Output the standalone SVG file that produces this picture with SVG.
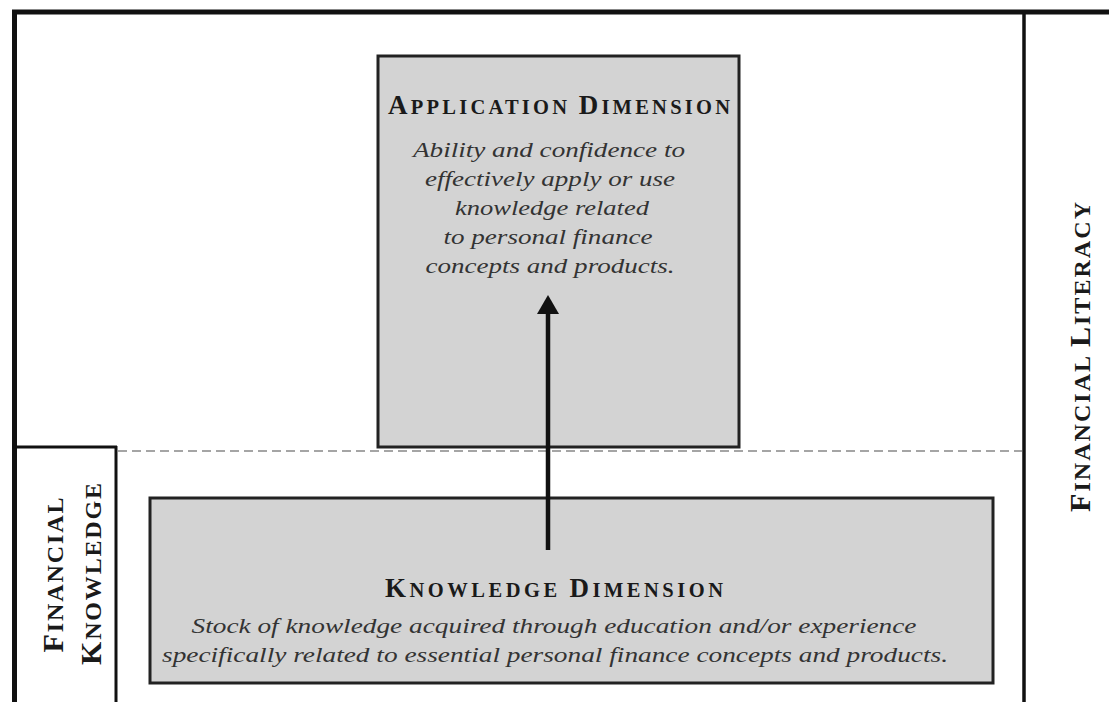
<svg xmlns="http://www.w3.org/2000/svg" width="1109" height="702" viewBox="0 0 1109 702">
<defs>
<style>
.frame{fill:none;stroke:#111;}
.box{fill:#d3d3d3;stroke:#222;stroke-width:3;}
.title{font-family:"Liberation Serif","Times New Roman",serif;font-weight:bold;fill:#1a1a1a;}
.desc{font-family:"Liberation Serif","Times New Roman",serif;font-style:italic;fill:#333;font-size:21px;}
.big{font-size:27px;}
.sm{font-size:20.5px;}
.vbig{font-size:30px;}
.vsm{font-size:24px;}
</style>
</defs>
<rect width="1109" height="702" fill="#fff"/>
<g id="frame">
<line class="frame" x1="12" y1="12" x2="1109" y2="12" stroke-width="5"/>
<line class="frame" x1="14.5" y1="10" x2="14.5" y2="702" stroke-width="5"/>
<line class="frame" x1="1024" y1="12" x2="1024" y2="702" stroke-width="3.5"/>
</g>
<g id="financial-literacy">
<text class="title" text-anchor="middle" transform="translate(1090,357) rotate(-90)" textLength="310" lengthAdjust="spacing"><tspan class="vbig">F</tspan><tspan class="vsm">INANCIAL </tspan><tspan class="vbig">L</tspan><tspan class="vsm">ITERACY</tspan></text>
</g>
<g id="financial-knowledge">
<line class="frame" x1="14" y1="447" x2="117" y2="447" stroke-width="3"/>
<line class="frame" x1="116" y1="446" x2="116" y2="702" stroke-width="3"/>
<text class="title" text-anchor="middle" transform="translate(63,575) rotate(-90)" textLength="155" lengthAdjust="spacing"><tspan class="vbig">F</tspan><tspan class="vsm">INANCIAL</tspan></text>
<text class="title" text-anchor="middle" transform="translate(101,574) rotate(-90)" textLength="182" lengthAdjust="spacing"><tspan class="vbig">K</tspan><tspan class="vsm">NOWLEDGE</tspan></text>
</g>
<g id="divider">
<line x1="118" y1="451" x2="1022" y2="451" stroke="#888" stroke-width="1.5" stroke-dasharray="9,5"/>
</g>
<g id="application-dimension">
<rect class="box" x="378" y="56" width="361" height="391"/>
<text class="title" x="559" y="114" text-anchor="middle" textLength="342" lengthAdjust="spacing"><tspan class="big">A</tspan><tspan class="sm">PPLICATION </tspan><tspan class="big">D</tspan><tspan class="sm">IMENSION</tspan></text>
<text class="desc" x="549" y="157" text-anchor="middle" textLength="272" lengthAdjust="spacingAndGlyphs">Ability and confidence to</text>
<text class="desc" x="550" y="186" text-anchor="middle" textLength="250" lengthAdjust="spacingAndGlyphs">effectively apply or use</text>
<text class="desc" x="552" y="215" text-anchor="middle" textLength="194" lengthAdjust="spacingAndGlyphs">knowledge related</text>
<text class="desc" x="548" y="244" text-anchor="middle" textLength="209" lengthAdjust="spacingAndGlyphs">to personal finance</text>
<text class="desc" x="550" y="273" text-anchor="middle" textLength="249" lengthAdjust="spacingAndGlyphs">concepts and products.</text>
</g>
<g id="knowledge-dimension">
<rect class="box" x="150" y="498" width="843" height="185"/>
<text class="title" x="554" y="597" text-anchor="middle" textLength="338" lengthAdjust="spacing"><tspan class="big">K</tspan><tspan class="sm">NOWLEDGE </tspan><tspan class="big">D</tspan><tspan class="sm">IMENSION</tspan></text>
<text class="desc" x="554" y="633" text-anchor="middle" textLength="725" lengthAdjust="spacingAndGlyphs">Stock of knowledge acquired through education and/or experience</text>
<text class="desc" x="555" y="662" text-anchor="middle" textLength="786" lengthAdjust="spacingAndGlyphs">specifically related to essential personal finance concepts and products.</text>
</g>
<g id="connectors">
<line x1="548" y1="550" x2="548" y2="312" stroke="#111" stroke-width="4.5"/>
<path d="M537,314 L548,295 L559,314 Z" fill="#111"/>
</g>
</svg>
